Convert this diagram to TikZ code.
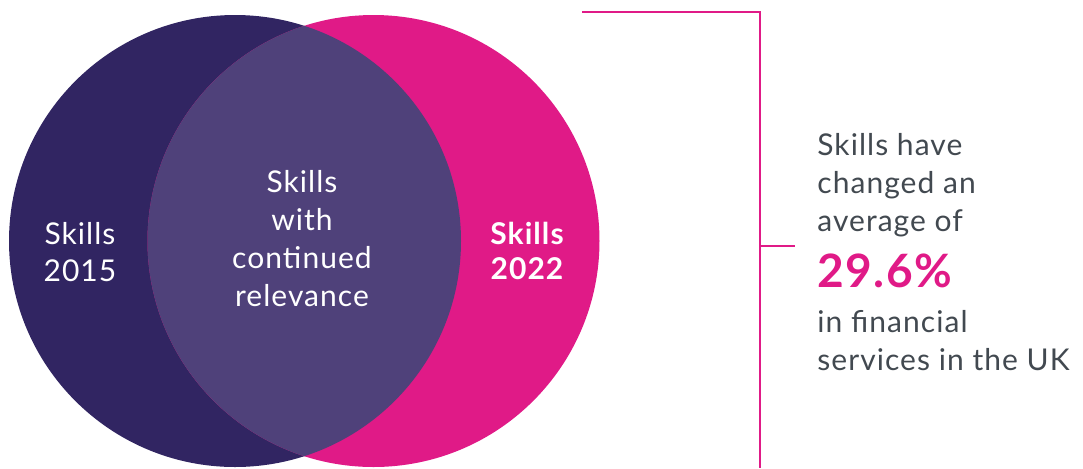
\documentclass[tikz,border=0pt]{standalone}
\usepackage{fontspec}
\setmainfont{Lato}[LetterSpace=3.5]
\definecolor{skdark}{RGB}{49,37,98}
\definecolor{sklens}{RGB}{79,65,122}
\definecolor{skpink}{RGB}{224,26,135}
\definecolor{skgrey}{RGB}{66,73,80}
\usetikzlibrary{positioning}

\begin{document}
\begin{tikzpicture}[x=0.5pt,y=-0.5pt,
	setlabel/.style={text=white,align=center,inner sep=0pt,font=\fontsize{15}{18.5}\selectfont},
	note/.style={text=skgrey,align=left,inner sep=0pt,font=\fontsize{15}{19}\selectfont},
	bracket/.style={draw=skpink,line width=1.25pt}]
	\useasboundingbox (0,0) rectangle (1083,468);
	\coordinate (c15) at (235,241);
	\coordinate (c22) at (373.5,241);
	\fill[skdark] (c15) circle (113pt);
	\fill[skpink] (c22) circle (113pt);
	\begin{scope}
		\clip (c15) circle (113pt);
		\fill[sklens] (c22) circle (113pt);
	\end{scope}
	
	\node[setlabel] (old) at (80,252) {Skills\\2015};
	\node[setlabel,font=\fontsize{15}{19}\selectfont] (both) at (302,239) {Skills\\with\\continued\\relevance};
	\node[setlabel,font=\fontsize{15}{17.5}\selectfont\bfseries] (new) at (527,251) {Skills\\2022};
	
	\node[note,anchor=north west] (change) at (817,133) {Skills have\\changed an\\average of};
	\node[anchor=base west,inner sep=0pt,text=skpink,font=\fontsize{23}{27}\selectfont\bfseries] (pct) at (817,287) {29.6\%};
	\node[note,anchor=north west] (where) at (817,310) {in financial\\services in the UK};
	
	\coordinate (top) at (582,12);
	\coordinate (corner) at (760,12);
	\coordinate (foot) at (760,468);
	\coordinate (mid) at (760,246);
	\coordinate (tip) at (795,246);
	\draw[bracket] (top) -- (corner) -- (foot);
	\draw[bracket] (mid) -- (tip);
\end{tikzpicture}
\end{document}
